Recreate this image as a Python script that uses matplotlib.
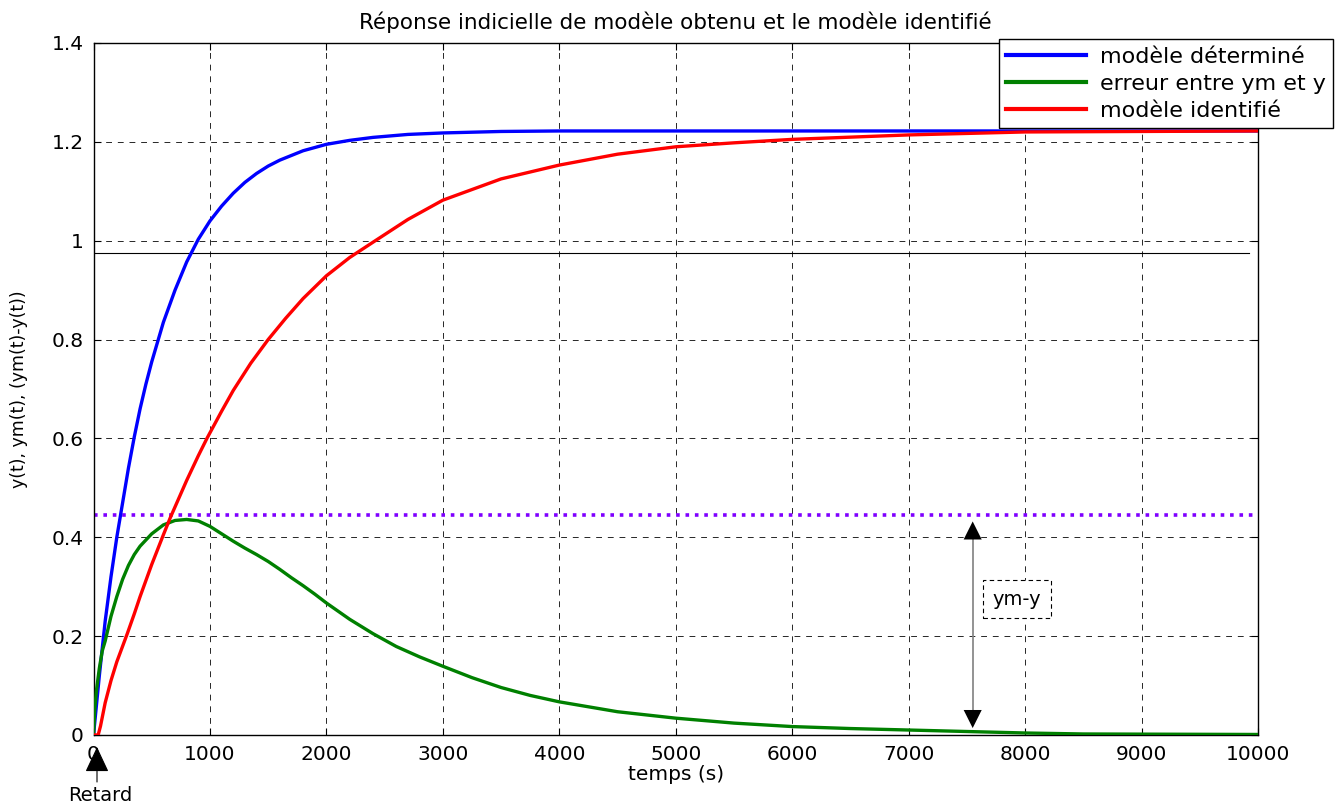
import matplotlib
matplotlib.use("Agg")
import matplotlib.pyplot as plt

plt.rcParams['font.family'] = ['DejaVu Sans']

# ---- data ----
blue_t = [0, 50, 100, 150, 200, 250, 300, 350, 400, 450, 500, 600, 700, 800, 900, 1000,
          1100, 1200, 1300, 1400, 1500, 1600, 1800, 2000, 2200, 2400, 2700, 3000, 3500,
          4000, 10000]
blue_y = [0, 0.12, 0.23, 0.32, 0.40, 0.47, 0.54, 0.603, 0.66, 0.71, 0.755, 0.835, 0.90,
          0.957, 1.003, 1.04, 1.07, 1.096, 1.118, 1.136, 1.151, 1.163, 1.182, 1.195, 1.203,
          1.209, 1.215, 1.218, 1.221, 1.222, 1.222]

red_t = [0, 40, 60, 100, 150, 200, 290, 350, 400, 500, 600, 660, 800, 900, 974, 1100, 1200,
         1350, 1500, 1650, 1800, 2000, 2200, 2420, 2700, 3000, 3500, 4000, 4500, 5000,
         5500, 6000, 7000, 8000, 10000]
red_y = [0, 0, 0.018, 0.065, 0.11, 0.148, 0.205, 0.245, 0.28, 0.345, 0.405, 0.44, 0.515,
         0.565, 0.60, 0.655, 0.697, 0.752, 0.80, 0.843, 0.883, 0.929, 0.966, 1.0, 1.043,
         1.082, 1.125, 1.153, 1.175, 1.19, 1.198, 1.205, 1.214, 1.22, 1.222]

green_t = [0, 10, 25, 50, 75, 100, 150, 200, 250, 300, 350, 400, 500, 600, 700, 800, 900,
           1000, 1100, 1200, 1300, 1400, 1500, 1600, 1700, 1800, 1900, 2000, 2200, 2400,
           2600, 2800, 3000, 3250, 3500, 3750, 4000, 4500, 5000, 5500, 6000, 6500, 7000,
           7500, 8000, 8500, 10000]
green_y = [0, 0.05, 0.09, 0.135, 0.17, 0.19, 0.24, 0.28, 0.315, 0.343, 0.365, 0.382, 0.407,
           0.425, 0.434, 0.436, 0.433, 0.422, 0.407, 0.392, 0.378, 0.365, 0.351, 0.335,
           0.318, 0.302, 0.285, 0.267, 0.234, 0.205, 0.179, 0.158, 0.139, 0.116, 0.096,
           0.08, 0.067, 0.047, 0.034, 0.024, 0.017, 0.013, 0.01, 0.007, 0.004, 0.002, 0.001]

level_80 = 0.975        # thin black horizontal line
level_max_err = 0.445   # purple dotted line
x_ticks = [0, 1000, 2000, 3000, 4000, 5000, 6000, 7000, 8000, 9000, 10000]
y_ticks = [0, 0.2, 0.4, 0.6, 0.8, 1.0, 1.2, 1.4]
y_tick_labels = ['0', '0.2', '0.4', '0.6', '0.8', '1', '1.2', '1.4']
legend_labels = ['modèle déterminé', 'erreur entre ym et y', 'modèle identifié']

# ---- figure ----
fig = plt.figure(figsize=(13.36, 8.05), dpi=100)
ax = fig.add_axes([0.0700, 0.0870, 0.8716, 0.8596])

ax.plot([0, 9920], [level_80, level_80], color='k', lw=0.8, zorder=2)
ax.plot([0, 9970], [level_max_err, level_max_err], color='#7f00ff', lw=2.6,
        linestyle=(0, (1.0, 1.6)), zorder=2)

lb, = ax.plot(blue_t, blue_y, color='#0000ff', lw=2.4, zorder=3)
lg, = ax.plot(green_t, green_y, color='#008000', lw=2.4, zorder=3)
lr, = ax.plot(red_t, red_y, color='#ff0000', lw=2.4, zorder=3)

ax.set_xlim(0, 10000)
ax.set_ylim(0, 1.4)
ax.set_xticks(x_ticks)
ax.set_xticklabels([str(v) for v in x_ticks])
ax.set_yticks(y_ticks)
ax.set_yticklabels(y_tick_labels)
ax.tick_params(direction='in', length=5, width=0.8, labelsize=14.5, top=True, right=True,
               pad=7, colors='k')
ax.grid(True, color='k', linestyle=(0, (6, 6)), linewidth=0.7, alpha=0.85)
for s in ax.spines.values():
    s.set_linewidth(1.0)
    s.set_color('k')

ax.set_title('Réponse indicielle de modèle obtenu et le modèle identifié',
             fontsize=15.5, pad=10)
ax.set_xlabel('temps (s)', fontsize=14.5, labelpad=1)
ax.set_ylabel('y(t), ym(t), (ym(t)-y(t))', fontsize=12.5, labelpad=17)

# double arrow ym-y
xa = 7550
ax.plot([xa, xa], [0.03, 0.41], color='#808080', lw=1.2, zorder=4)
ax.annotate('', xy=(xa, 0.432), xytext=(xa, 0.38),
            arrowprops=dict(arrowstyle='-|>,head_length=1.3,head_width=0.65',
                            color='k', lw=0, shrinkA=0, shrinkB=0), zorder=5)
ax.annotate('', xy=(xa, 0.014), xytext=(xa, 0.07),
            arrowprops=dict(arrowstyle='-|>,head_length=1.3,head_width=0.65',
                            color='k', lw=0, shrinkA=0, shrinkB=0), zorder=5)
ax.text(7930, 0.275, 'ym-y', fontsize=14, ha='center', va='center', zorder=6,
        bbox=dict(boxstyle='square,pad=0.5', fc='white', ec='k', ls=(0, (4, 3)), lw=0.8))

# Retard arrow
fig.text(100, 10, 'Retard', transform=None, fontsize=14, ha='center', va='center')
ax.annotate('', xy=(97, 58), xycoords='figure pixels', xytext=(97, 23),
            textcoords='figure pixels',
            arrowprops=dict(arrowstyle='-|>,head_length=1.6,head_width=0.75',
                            color='k', lw=0.8, shrinkA=0, shrinkB=0), annotation_clip=False)

leg = fig.legend([lb, lg, lr], legend_labels, loc='upper right',
                 bbox_to_anchor=(0.998, 0.951), fontsize=16, frameon=True,
                 fancybox=False, edgecolor='k', framealpha=1, handlelength=3.6,
                 borderaxespad=0, borderpad=0.35, labelspacing=0.3, handletextpad=0.6)
leg.get_frame().set_linewidth(1.0)
for h in leg.get_lines():
    h.set_linewidth(3)

fig.savefig('out.png', dpi=100)
